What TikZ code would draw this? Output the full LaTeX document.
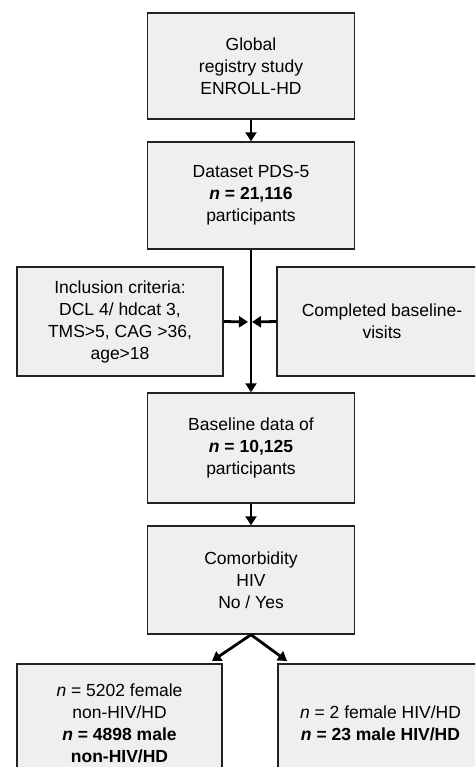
\documentclass[tikz,border=0pt]{standalone}
\usepackage{fontspec}
\setmainfont{Liberation Sans}
\usetikzlibrary{arrows.meta}
\definecolor{boxfill}{HTML}{EFEFEF}
\definecolor{boxline}{HTML}{222222}
\begin{document}
\begin{tikzpicture}[x=1pt,y=-1pt,
  box/.style={draw=boxline,fill=boxfill,line width=1.4pt,rectangle,
    align=center,inner sep=0pt,font=\fontsize{17.5}{22}\selectfont},
  flow/.style={line width=2.8pt,-{Triangle[length=9pt,width=11pt]}},
  plain/.style={line width=2.8pt}]
\useasboundingbox (0,0) rectangle (475,767);
\clip (0,0) rectangle (475,767);

% main column
\node[box,minimum width=207pt,minimum height=106pt] (reg) at (251,66)
  {Global\\registry study\\ENROLL-HD};
\node[box,minimum width=207pt,minimum height=107pt] (pds) at (251,195.5)
  {Dataset PDS-5\\\textbf{\textit{n} = 21,116}\\participants};
\node[box,minimum width=206pt,minimum height=109pt] (incl) at (120,321.5)
  {Inclusion criteria:\\DCL 4/ hdcat 3,\\TMS>5, CAG >36,\\age>18};
\node[box,minimum width=210pt,minimum height=109pt] (visit) at (382,321.5)
  {Completed baseline-\\visits};
\node[box,minimum width=207pt,minimum height=110pt] (base) at (251,448)
  {Baseline data of\\\textbf{\textit{n} = 10,125}\\participants};
\node[box,minimum width=207pt,minimum height=108pt] (como) at (251,580)
  {Comorbidity\\HIV\\No / Yes};

% outcome groups
\node[box,minimum width=205pt,minimum height=118pt] (nonhiv) at (119.5,723)
  {\textit{n} = 5202 female\\non-HIV/HD\\\textbf{\textit{n} = 4898 male}\\\textbf{non-HIV/HD}};
\node[box,minimum width=205pt,minimum height=118pt] (hiv) at (380.5,723)
  {\textit{n} = 2 female HIV/HD\\\textbf{\textit{n} = 23 male HIV/HD}};

% connectors
\coordinate (jl) at (248,322);
\coordinate (jr) at (252,322);
\coordinate (tl) at (212,661);
\coordinate (tr) at (287,661);

\draw[flow] (reg.south) -- (pds.north);
\draw[flow] (pds.south) -- (base.north);
\draw[flow] (incl.east) -- (jl);
\draw[flow] (visit.west) -- (jr);
\draw[flow] (base.south) -- (como.north);
\draw[flow] (como.south) -- (tl);
\draw[flow] (como.south) -- (tr);
\end{tikzpicture}
\end{document}
